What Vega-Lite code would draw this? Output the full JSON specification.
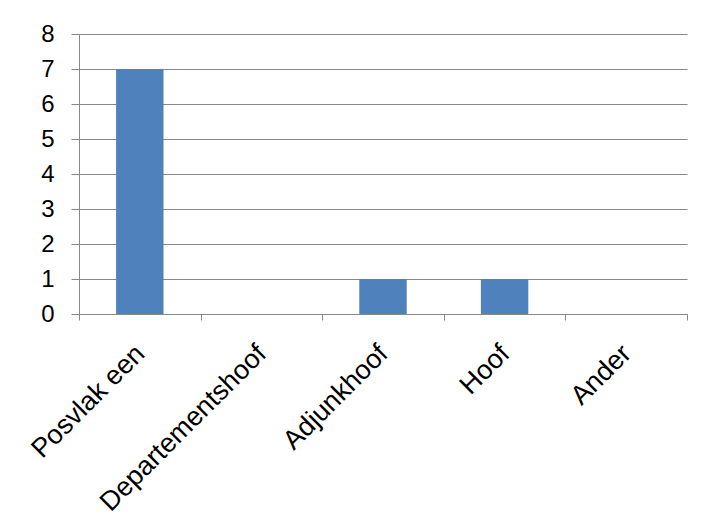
{
  "$schema": "https://vega.github.io/schema/vega-lite/v6.json",
  "width": 608,
  "height": 280,
  "autosize": "none",
  "padding": {"left": 79, "top": 34, "right": 23, "bottom": 215},
  "background": "white",
  "config": {
    "view": {"stroke": null},
    "font": "Liberation Sans"
  },
  "data": {
    "values": [
      {"categorie": "Posvlak een", "aantal": 7},
      {"categorie": "Departementshoof", "aantal": 0},
      {"categorie": "Adjunkhoof", "aantal": 1},
      {"categorie": "Hoof", "aantal": 1},
      {"categorie": "Ander", "aantal": 0}
    ]
  },
  "mark": {"type": "bar", "color": "#4f81bd", "width": {"band": 0.39}},
  "encoding": {
    "x": {
      "field": "categorie",
      "type": "nominal",
      "sort": null,
      "title": null,
      "scale": {"paddingInner": 0, "paddingOuter": 0},
      "axis": {
        "domainColor": "#888888",
        "tickColor": "#888888",
        "tickBand": "extent",
        "tickSize": 6,
        "labelAngle": -45,
        "labelAlign": "right",
        "labelBaseline": "top",
        "labelFontSize": 27,
        "labelColor": "#000000",
        "labelPadding": 20,
        "labelOffset": -9,
        "labelLimit": 400
      }
    },
    "y": {
      "field": "aantal",
      "type": "quantitative",
      "title": null,
      "scale": {"domain": [0, 8]},
      "axis": {
        "values": [0, 1, 2, 3, 4, 5, 6, 7, 8],
        "domainColor": "#888888",
        "tickColor": "#888888",
        "gridColor": "#888888",
        "gridOpacity": 1,
        "tickSize": 8,
        "labelFontSize": 24,
        "labelColor": "#000000",
        "labelPadding": 17
      }
    }
  }
}
